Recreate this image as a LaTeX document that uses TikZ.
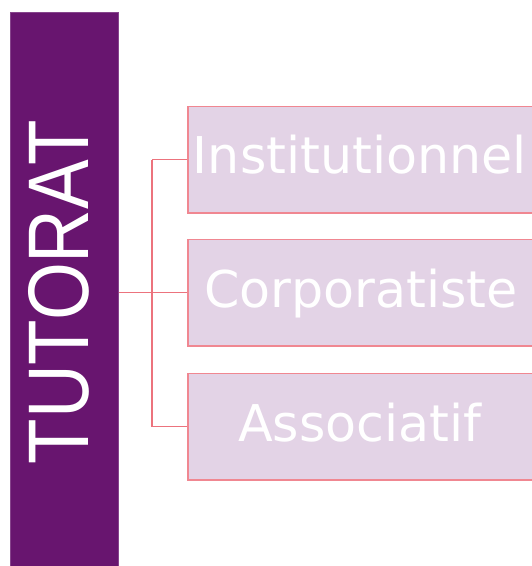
\documentclass[tikz,border=0pt]{standalone}
\usepackage{fontspec}
\setmainfont{DejaVu Sans}
\newfontfamily\titlefont{Liberation Sans}
\definecolor{barpurple}{RGB}{104,21,111}
\definecolor{boxfill}{RGB}{227,211,230}
\definecolor{boxline}{RGB}{240,135,145}
\definecolor{linkred}{RGB}{236,115,125}
\tikzset{
  itembox/.style={draw=boxline, fill=boxfill, line width=1.6pt, minimum width=346pt, minimum height=106.5pt, anchor=north west, inner sep=0pt},
  itemtext/.style={text=white, anchor=base, inner sep=0pt, font=\fontsize{50.7pt}{60pt}\selectfont},
  link/.style={draw=linkred, line width=1.5pt}
}
\begin{document}
\begin{tikzpicture}[x=1pt,y=-1pt]
\useasboundingbox (0,0) rectangle (532,566);
\node[fill=barpurple, draw=barpurple!80!white, line width=0.6pt, minimum width=108pt, minimum height=560pt, anchor=north west, inner sep=0pt] (bar) at (10,12) {};
\node[rotate=90, anchor=base, inner sep=0pt, text=white] (title) at (88.3,292) {\scalebox{0.866}[1]{\titlefont\fontsize{86pt}{90pt}\selectfont TUTORAT}};
\node[itembox] (b1) at (187,105.5) {};
\node[itembox] (b2) at (187,238.5) {};
\node[itembox] (b3) at (187,372.5) {};
\node[itemtext] (t1) at (360,173) {Institutionnel};
\node[itemtext] (t2) at (361,307.5) {Corporatiste};
\node[itemtext] (t3) at (360,441) {Associatif};
\coordinate (j) at (152,292);
\draw[link] (bar.east |- b2.west) -- (b2.west);
\draw[link] (j |- b1.west) -- (j |- b3.west);
\draw[link] (j |- b1.west) -- (b1.west);
\draw[link] (j |- b3.west) -- (b3.west);
\end{tikzpicture}
\end{document}
